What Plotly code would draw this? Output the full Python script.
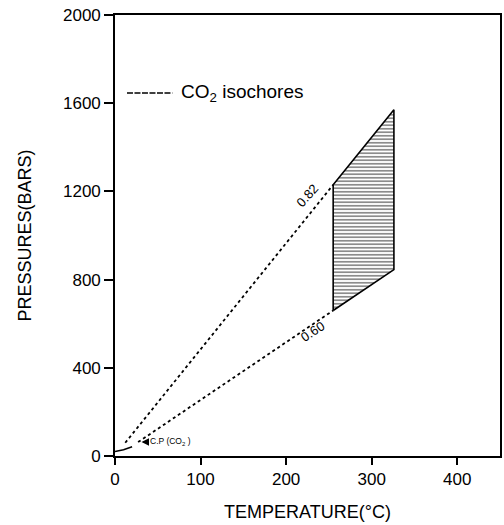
import plotly.graph_objects as go

# Isochore 0.82 (start near liquid-vapour curve, end at hatched field)
iso082_T = [12, 255]
iso082_P = [60, 1230]
# Isochore 0.60
iso060_T = [27, 255]
iso060_P = [63, 660]
# Hatched field (T, P) corners
field_T = [255, 326, 326, 255, 255]
field_P = [660, 845, 1570, 1230, 660]
# Liquid-vapour curve segment near origin
lv_T = [0, 10, 20]
lv_P = [20, 28, 42]
# Critical point CO2
cp_T, cp_P = 31, 64

x_ticks = [0, 100, 200, 300, 400]
y_ticks = [0, 400, 800, 1200, 1600, 2000]

FONT = "Liberation Sans"
fig = go.Figure()

fig.add_trace(go.Scatter(x=field_T, y=field_P, mode="lines", fill="toself",
                         fillcolor="white",
                         fillpattern=dict(shape="-", fgcolor="black", bgcolor="white",
                                          size=3.5, solidity=0.45),
                         line=dict(color="black", width=1.6), showlegend=False,
                         hoverinfo="skip"))
for T, P in [(iso082_T, iso082_P), (iso060_T, iso060_P)]:
    fig.add_trace(go.Scatter(x=T, y=P, mode="lines",
                             line=dict(color="black", width=1.8, dash="3px,3px"),
                             showlegend=False))
fig.add_trace(go.Scatter(x=lv_T, y=lv_P, mode="lines",
                         line=dict(color="black", width=1.5), showlegend=False))

# legend line
fig.add_trace(go.Scatter(x=[14, 67], y=[1646, 1646], mode="lines",
                         line=dict(color="black", width=1.5, dash="6px,1.5px"),
                         showlegend=False))
fig.add_annotation(x=75, y=1646, text="CO<sub>2</sub> isochores", showarrow=False,
                   xanchor="left", yanchor="middle",
                   font=dict(family=FONT, size=19, color="black"))

# isochore labels
fig.add_annotation(x=225, y=1180, text="0.82", showarrow=False, textangle=-48,
                   font=dict(family=FONT, size=13, color="black"))
fig.add_annotation(x=231, y=565, text="0.60", showarrow=False, textangle=-33,
                   font=dict(family=FONT, size=13, color="black"))

# critical point
fig.add_annotation(x=cp_T, y=cp_P, ax=8, ay=0, text="", showarrow=True,
                   arrowhead=2, arrowsize=1, arrowwidth=1.5, arrowcolor="black")
fig.add_annotation(x=cp_T + 8, y=cp_P, text="C.P (CO<sub>2</sub> )", showarrow=False,
                   xanchor="left", yanchor="middle",
                   font=dict(family=FONT, size=8.5, color="black"))

axis_common = dict(showgrid=False, zeroline=False, showline=True, linecolor="black",
                   linewidth=1.6, mirror=True, ticks="outside", tickcolor="black",
                   tickwidth=1.5, tickfont=dict(family=FONT, size=17, color="black"))

fig.update_xaxes(range=[0, 450], tickvals=x_ticks, ticklen=7,
                 title=dict(text="TEMPERATURE(°C)", font=dict(family=FONT, size=18, color="black"),
                            standoff=17),
                 **axis_common)
fig.update_yaxes(range=[0, 2000], tickvals=y_ticks, ticklen=9,
                 title=dict(text="PRESSURES(BARS)", font=dict(family=FONT, size=18, color="black"),
                            standoff=27),
                 **axis_common)

fig.update_layout(width=504, height=525, margin=dict(l=115, r=2, t=15, b=69),
                  plot_bgcolor="white", paper_bgcolor="white", showlegend=False)

fig.write_html("out.html")
